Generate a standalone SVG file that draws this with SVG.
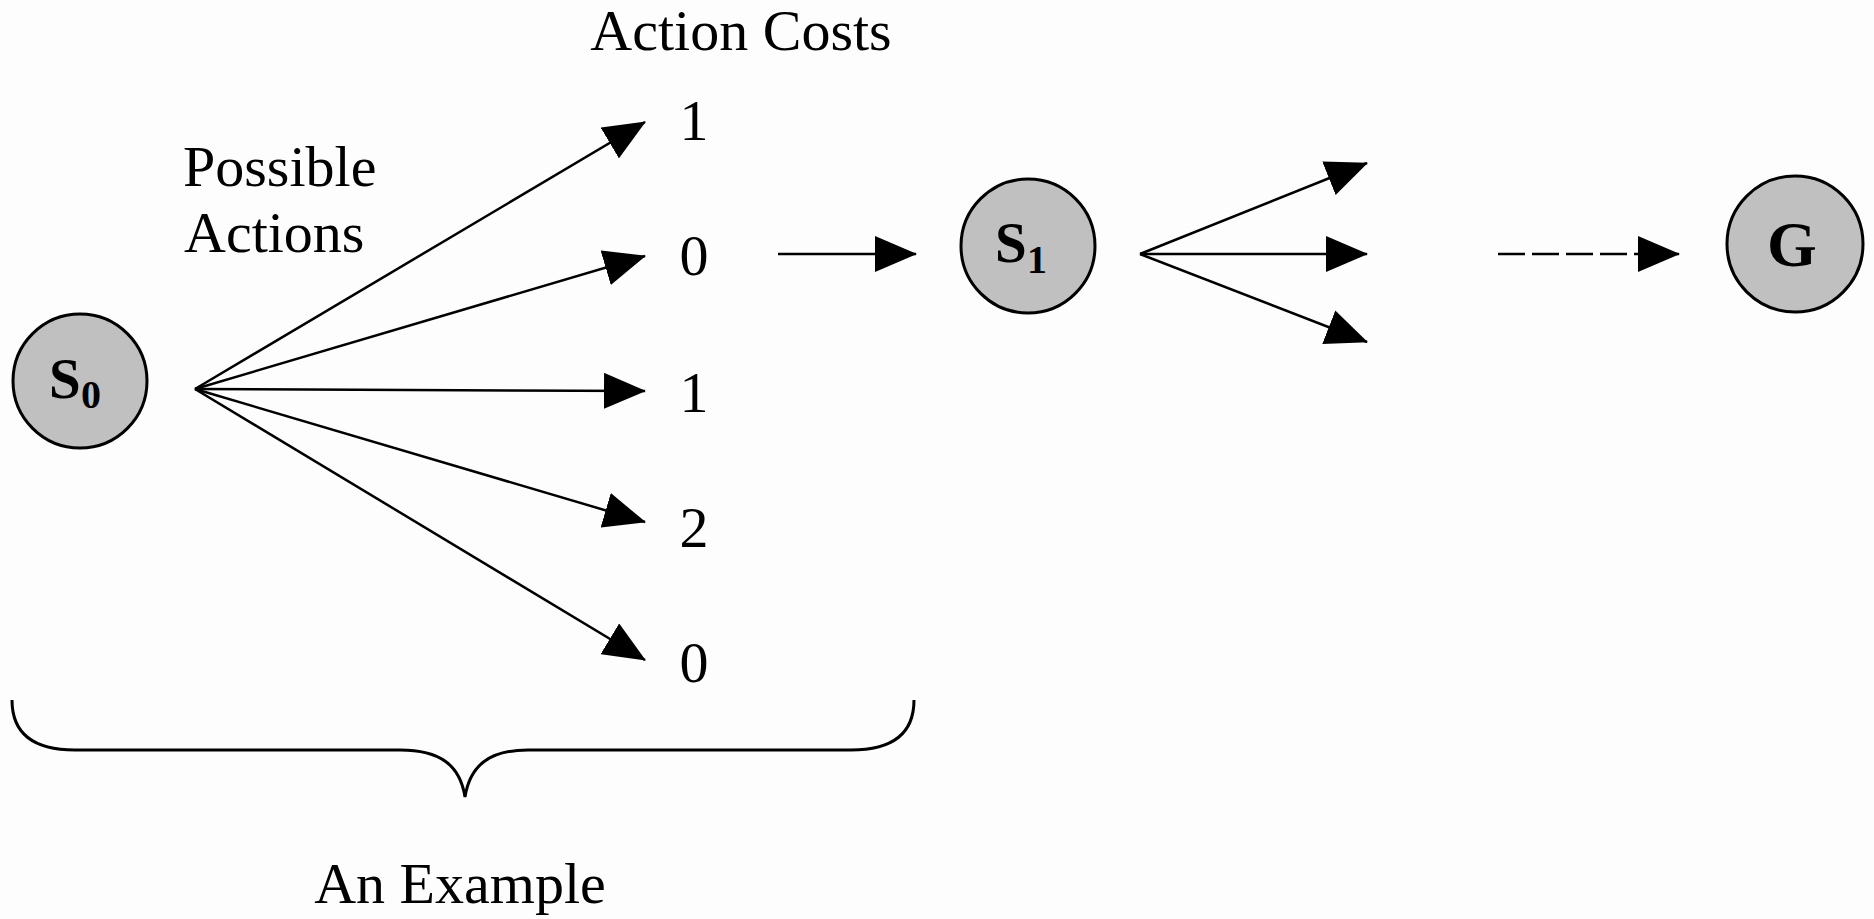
<svg xmlns="http://www.w3.org/2000/svg" width="1874" height="919" viewBox="0 0 1874 919">
  <style>
    .bg { fill: #fdfdfd; }
    .node { fill: #c0c0c0; stroke: #000; stroke-width: 3; }
    .lbl { font-family: "Liberation Serif", "Times New Roman", serif; font-size: 58px; fill: #000; }
    .nlbl { font-family: "Liberation Serif", "Times New Roman", serif; font-weight: bold; fill: #000; }
    .edge { stroke: #000; stroke-width: 2.5; fill: none; marker-end: url(#arrow); }
    .dash { stroke-dasharray: 27 7; }
    .brace { stroke: #000; stroke-width: 3; fill: none; }
  </style>
  <defs>
    <marker id="arrow" markerUnits="userSpaceOnUse" viewBox="0 0 42 36" refX="41" refY="18" markerWidth="42" markerHeight="36" orient="auto">
      <path d="M0,0 L42,18 L0,36 z" fill="#000"/>
    </marker>
  </defs>
  <rect class="bg" x="0" y="0" width="1874" height="919"/>

  <g id="connectors">
    <line class="edge" x1="195" y1="389" x2="645" y2="122"/>
    <line class="edge" x1="195" y1="389" x2="645" y2="256"/>
    <line class="edge" x1="195" y1="389" x2="645" y2="391"/>
    <line class="edge" x1="195" y1="389" x2="645" y2="522"/>
    <line class="edge" x1="195" y1="389" x2="645" y2="660"/>
    <line class="edge" x1="778" y1="254" x2="916" y2="254"/>
    <line class="edge" x1="1140" y1="254" x2="1367" y2="163"/>
    <line class="edge" x1="1140" y1="254" x2="1367" y2="254"/>
    <line class="edge" x1="1140" y1="254" x2="1367" y2="342"/>
    <line class="edge dash" x1="1498" y1="254" x2="1679" y2="254"/>
  </g>

  <g id="node-s0">
    <circle class="node" cx="80" cy="381" r="67"/>
    <text class="nlbl" x="49" y="398" font-size="57">S</text>
    <text class="nlbl" x="81" y="408" font-size="40">0</text>
  </g>
  <g id="node-s1">
    <circle class="node" cx="1028" cy="246" r="67"/>
    <text class="nlbl" x="995" y="262" font-size="57">S</text>
    <text class="nlbl" x="1027" y="273" font-size="40">1</text>
  </g>
  <g id="node-g">
    <circle class="node" cx="1795" cy="244" r="68"/>
    <text class="nlbl" x="1792" y="266" font-size="64" text-anchor="middle">G</text>
  </g>

  <g id="labels">
    <text class="lbl" x="741" y="50" text-anchor="middle">Action Costs</text>
    <text class="lbl" x="183" y="186">Possible</text>
    <text class="lbl" x="184" y="252">Actions</text>
    <text class="lbl" x="694" y="140" text-anchor="middle">1</text>
    <text class="lbl" x="694" y="275" text-anchor="middle">0</text>
    <text class="lbl" x="694" y="412" text-anchor="middle">1</text>
    <text class="lbl" x="694" y="547" text-anchor="middle">2</text>
    <text class="lbl" x="694" y="682" text-anchor="middle">0</text>
    <text class="lbl" x="460" y="903" text-anchor="middle">An Example</text>
  </g>

  <g id="brace">
    <path class="brace" d="M12,700 Q12,750 75,750 L400,750 C440,750 460,765 465,797 C470,765 490,750 528,750 L851,750 Q914,750 914,700"/>
  </g>
</svg>
